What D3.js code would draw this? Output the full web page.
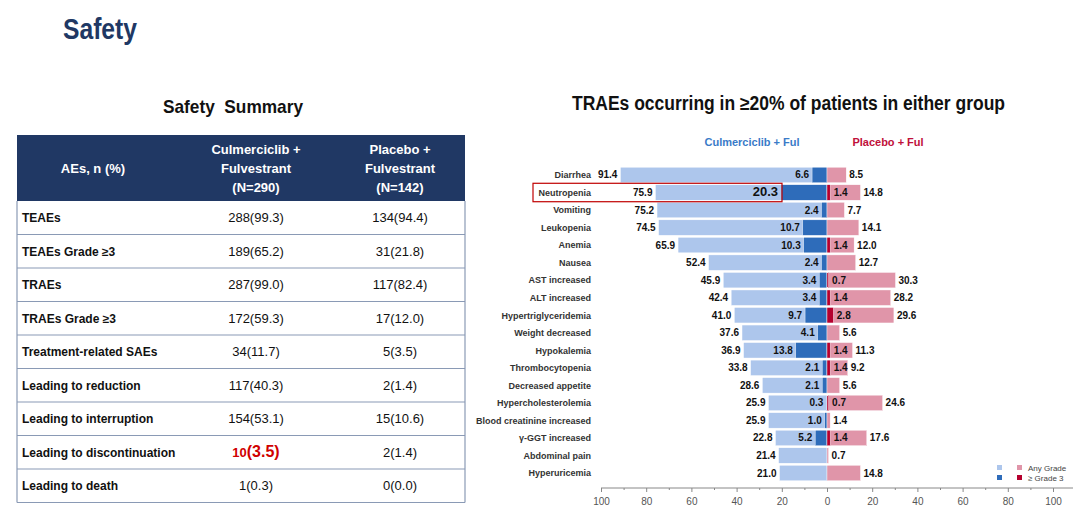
<!DOCTYPE html>
<html>
<head>
<meta charset="utf-8">
<script src="https://cdn.jsdelivr.net/npm/d3@7"></script>
<style>
  body { margin: 0; background: #fff; }
  svg { font-family: "Liberation Sans", Arial, sans-serif; }
</style>
</head>
<body>
<div id="chart"></div>
<script>
// table data
var tableRows = ["TEAEs", "TEAEs Grade \u22653", "TRAEs", "TRAEs Grade \u22653", "Treatment-related SAEs",
  "Leading to reduction", "Leading to interruption", "Leading to discontinuation", "Leading to death"];
var culmCol = ["288(99.3)", "189(65.2)", "287(99.0)", "172(59.3)", "34(11.7)", "117(40.3)", "154(53.1)", "10(3.5)", "1(0.3)"];
var placCol = ["134(94.4)", "31(21.8)", "117(82.4)", "17(12.0)", "5(3.5)", "2(1.4)", "15(10.6)", "2(1.4)", "0(0.0)"];

// butterfly data
var categories = ["Diarrhea", "Neutropenia", "Vomiting", "Leukopenia", "Anemia", "Nausea", "AST increased",
  "ALT increased", "Hypertriglyceridemia", "Weight decreased", "Hypokalemia", "Thrombocytopenia",
  "Decreased appetite", "Hypercholesterolemia", "Blood creatinine increased", "\u03b3-GGT increased",
  "Abdominal pain", "Hyperuricemia"];
var culAny = [91.4, 75.9, 75.2, 74.5, 65.9, 52.4, 45.9, 42.4, 41.0, 37.6, 36.9, 33.8, 28.6, 25.9, 25.9, 22.8, 21.4, 21.0];
var culG3  = [6.6, 20.3, 2.4, 10.7, 10.3, 2.4, 3.4, 3.4, 9.7, 4.1, 13.8, 2.1, 2.1, 0.3, 1.0, 5.2, null, null];
var plaAny = [8.5, 14.8, 7.7, 14.1, 12.0, 12.7, 30.3, 28.2, 29.6, 5.6, 11.3, 9.2, 5.6, 24.6, 1.4, 17.6, 0.7, 14.8];
var plaG3  = [null, 1.4, null, null, 1.4, null, 0.7, 1.4, 2.8, null, 1.4, 1.4, null, 0.7, null, 1.4, null, null];
var majorTicks = [-100, -80, -60, -40, -20, 0, 20, 40, 60, 80, 100];

var colLightBlue = "#adc6ec", colDarkBlue = "#2e6cba", colPink = "#e095a9", colDarkRed = "#b5002e";
var navy = "#203864";

var svg = d3.select("#chart").append("svg")
  .attr("width", 1080).attr("height", 512);

// page title
svg.append("text").attr("x", 63).attr("y", 39)
  .attr("font-size", 29).attr("font-weight", "bold").attr("fill", navy)
  .attr("textLength", 74).attr("lengthAdjust", "spacingAndGlyphs")
  .text("Safety");

// ---- table ----
var tbl = svg.append("g").attr("class", "table-g");
tbl.append("text").attr("x", 163).attr("y", 113)
  .attr("font-size", 19).attr("font-weight", "bold").attr("fill", "#111")
  .attr("textLength", 140).attr("lengthAdjust", "spacingAndGlyphs")
  .text("Safety\u00a0 Summary");

var tLeft = 17, tRight = 465, hTop = 135, hBot = 201, rowH = 33.5;
var colX = [22, 256, 400];

tbl.append("rect").attr("x", tLeft).attr("y", hTop).attr("width", tRight - tLeft).attr("height", hBot - hTop)
  .attr("fill", navy);
tbl.append("text").attr("x", 93).attr("y", 173).attr("text-anchor", "middle")
  .attr("font-size", 13).attr("font-weight", "bold").attr("fill", "#fff").text("AEs, n (%)");
[["Culmerciclib +", "Fulvestrant", "(N=290)"], ["Placebo +", "Fulvestrant", "(N=142)"]].forEach(function(lines, i){
  lines.forEach(function(l, j){
    tbl.append("text").attr("x", colX[i + 1]).attr("y", 154 + j * 19).attr("text-anchor", "middle")
      .attr("font-size", 13).attr("font-weight", "bold").attr("fill", "#fff").text(l);
  });
});

var rowY = d3.scaleLinear().domain([0, tableRows.length]).range([hBot, hBot + rowH * tableRows.length]);
tableRows.forEach(function(r, i){
  var cy = rowY(i) + rowH / 2 + 4.5;
  tbl.append("text").attr("x", colX[0]).attr("y", cy).attr("font-size", 12).attr("font-weight", "bold")
    .attr("fill", "#111").text(r);
  var t1 = tbl.append("text").attr("x", colX[1]).attr("y", cy).attr("text-anchor", "middle")
    .attr("font-size", 13).attr("fill", "#111");
  if (r == "Leading to discontinuation") {
    var parts = culmCol[i].split("(");
    t1.attr("fill", "#d00000").attr("font-weight", "bold");
    t1.append("tspan").attr("font-size", 13).text(parts[0]);
    t1.append("tspan").attr("font-size", 16).text("(" + parts[1]);
  } else {
    t1.text(culmCol[i]);
  }
  tbl.append("text").attr("x", colX[2]).attr("y", cy).attr("text-anchor", "middle")
    .attr("font-size", 13).attr("fill", "#111").text(placCol[i]);
  tbl.append("line").attr("x1", tLeft).attr("x2", tRight)
    .attr("y1", rowY(i + 1)).attr("y2", rowY(i + 1))
    .attr("stroke", "#8a9ab5").attr("stroke-width", 1.2);
});
[tLeft, tRight].forEach(function(x){
  tbl.append("line").attr("x1", x).attr("x2", x).attr("y1", hBot).attr("y2", rowY(tableRows.length))
    .attr("stroke", "#8a9ab5").attr("stroke-width", 1.2);
});

// ---- butterfly chart ----
var ch = svg.append("g").attr("class", "chart-g");
ch.append("text").attr("x", 572).attr("y", 110)
  .attr("font-size", 19.5).attr("font-weight", "bold").attr("fill", "#111")
  .attr("textLength", 433).attr("lengthAdjust", "spacingAndGlyphs")
  .text("TRAEs occurring in \u226520% of patients in either group");
ch.append("text").attr("x", 752).attr("y", 146).attr("text-anchor", "middle")
  .attr("font-size", 11).attr("font-weight", "bold").attr("fill", "#3a7bc8").text("Culmerciclib + Ful");
ch.append("text").attr("x", 888).attr("y", 146).attr("text-anchor", "middle")
  .attr("font-size", 11).attr("font-weight", "bold").attr("fill", "#c0103a").text("Placebo + Ful");

var x = d3.scaleLinear().domain([-100, 100]).range([601, 1053]);
var y = d3.scaleBand().domain(categories).range([166.2, 481.8]).paddingInner(0.12).paddingOuter(0.06);
var x0 = x(0);

var rows = ch.selectAll("g.row").data(categories).enter().append("g").attr("class", "row");

rows.append("text").attr("x", 591).attr("y", function(d){ return y(d) + y.bandwidth() / 2 + 3.3; })
  .attr("text-anchor", "end").attr("font-size", 9).attr("font-weight", "bold").attr("fill", "#333")
  .text(function(d){ return d; });

function bar(vals, color, side){
  ch.append("g").selectAll("rect").data(categories).enter()
    .filter(function(d, i){ return vals[i] != null; })
    .append("rect")
    .attr("x", function(d){ var v = vals[categories.indexOf(d)]; return side < 0 ? x(-v) : x0; })
    .attr("width", function(d){ var v = vals[categories.indexOf(d)]; return Math.abs(x(v) - x0); })
    .attr("y", function(d){ return y(d); })
    .attr("height", y.bandwidth())
    .attr("fill", color)
    .attr("stroke", "#fff").attr("stroke-width", 0.4);
}
bar(culAny, colLightBlue, -1);
bar(culG3, colDarkBlue, -1);
bar(plaAny, colPink, 1);
bar(plaG3, colDarkRed, 1);

function labels(vals, side, big){
  ch.append("g").selectAll("text").data(categories).enter()
    .filter(function(d, i){ return vals[i] != null; })
    .append("text")
    .attr("x", function(d){ var v = vals[categories.indexOf(d)]; return side < 0 ? x(-v) - 3 : x(v) + 3; })
    .attr("y", function(d){ return y(d) + y.bandwidth() / 2 + 3.5; })
    .attr("text-anchor", side < 0 ? "end" : "start")
    .attr("font-size", function(d){ return (big && d == "Neutropenia") ? 13 : 10; })
    .attr("font-weight", "bold").attr("fill", "#111")
    .text(function(d){ return vals[categories.indexOf(d)].toFixed(1); });
}
labels(culAny, -1);
labels(culG3, -1, true);
labels(plaAny, 1);
ch.append("g").selectAll("text").data(categories).enter()
  .filter(function(d, i){ return plaG3[i] != null; })
  .append("text")
  .attr("x", function(d){ return x(plaG3[categories.indexOf(d)]) + 3.5; })
  .attr("y", function(d){ return y(d) + y.bandwidth() / 2 + 3.5; })
  .attr("font-size", 10).attr("font-weight", "bold").attr("fill", "#111")
  .text(function(d){ return plaG3[categories.indexOf(d)].toFixed(1); });

// neutropenia highlight box
ch.append("rect").attr("x", 533).attr("y", y("Neutropenia") - 1.5)
  .attr("width", 249).attr("height", y.bandwidth() + 3)
  .attr("fill", "none").attr("stroke", "#c00000").attr("stroke-width", 1.2);

// axis
var axisY = 488;
var minor = ch.append("g").attr("transform", "translate(0," + axisY + ")")
  .call(d3.axisBottom(x).tickValues(d3.range(-90, 100, 20)).tickSize(2).tickFormat(""));
var major = ch.append("g").attr("transform", "translate(0," + axisY + ")")
  .call(d3.axisBottom(x).tickValues(majorTicks).tickSize(4).tickPadding(6)
    .tickFormat(function(d){ return Math.abs(d); }));
ch.append("line").attr("x1", x(-100)).attr("x2", 1073).attr("y1", axisY).attr("y2", axisY)
  .attr("stroke", "#888");
[minor, major].forEach(function(g){
  g.select(".domain").remove();
  g.selectAll("line").attr("stroke", "#888");
  g.selectAll("text").attr("font-size", 10).attr("fill", "#555")
    .attr("font-family", "Liberation Sans, Arial, sans-serif");
});

// legend
var lg = ch.append("g");
[[colLightBlue, 997, 465], [colPink, 1017, 465], [colDarkBlue, 997, 475], [colDarkRed, 1017, 475]].forEach(function(s){
  lg.append("rect").attr("x", s[1]).attr("y", s[2]).attr("width", 5).attr("height", 5).attr("fill", s[0]);
});
lg.append("text").attr("x", 1028).attr("y", 471).attr("font-size", 8).attr("fill", "#444").text("Any Grade");
lg.append("text").attr("x", 1028).attr("y", 481).attr("font-size", 8).attr("fill", "#444").text("\u2265 Grade 3");
</script>
</body>
</html>
